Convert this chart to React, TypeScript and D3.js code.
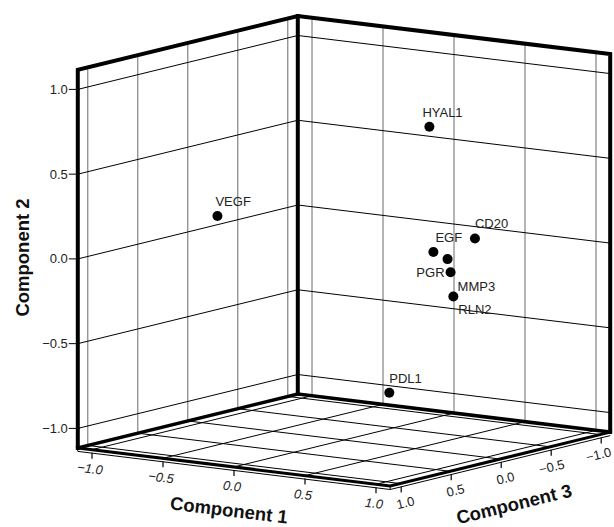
import React from 'react'
import * as d3 from 'd3'

// loadings
const variables = ['VEGF', 'HYAL1', 'CD20', 'EGF', 'PGR', 'MMP3', 'RLN2', 'PDL1']
const component1 = [-0.68, 0.39, 0.57, 0.70, 0.87, 0.68, 0.77, 0.46]
const component2 = [0.18, 0.73, 0.06, 0.08, 0.07, -0.07, -0.19, -0.76]
const component3 = [0.30, -0.30, -0.50, 0.10, 0.20, -0.10, 0.00, 0.20]

const ticks = [-1.0, -0.5, 0.0, 0.5, 1.0]
const tickLabels = ['\u22121.0', '\u22120.5', '0.0', '0.5', '1.0']

// where each point label sits next to its dot
const labelPlacement: [number, number, string][] = [
  [-2, -10, 'start'],
  [-7, -10, 'start'],
  [0, -10, 'start'],
  [2, -10, 'start'],
  [-3, 18, 'end'],
  [7, 19, 'start'],
  [5, 17, 'start'],
  [0, -10, 'start'],
]

const W = 614
const H = 527
const FONT = '"Liberation Sans", Arial, sans-serif'

// projection of the box: back-bottom corner and the three edge vectors
const B = [297.8, 394]
const E1 = [312.4, 38.1]
const E2 = [0, -378]
const E3 = [-220, 53.9]

const s1 = d3.scaleLinear().domain([-1.1, 1.1]).range([0, 1])
const s2 = d3.scaleLinear().domain([-1.115, 1.115]).range([0, 1])
const s3 = d3.scaleLinear().domain([-1.1, 1.1]).range([0, 1])

const [min1, max1] = s1.domain()
const [min2, max2] = s2.domain()
const [min3, max3] = s3.domain()

function project(a: number, b: number, c: number): [number, number] {
  const t1 = s1(a), t2 = s2(b), t3 = s3(c)
  return [
    B[0] + t1 * E1[0] + t2 * E2[0] + t3 * E3[0],
    B[1] + t1 * E1[1] + t2 * E2[1] + t3 * E3[1],
  ]
}

const line = d3.line()

function seg(p: [number, number][]) {
  return line(p) || ''
}

export default function App() {
  const wallVert: string[] = []
  const grid: string[] = []

  ticks.forEach(v => {
    // left wall (c1 = min)
    wallVert.push(seg([project(min1, min2, v), project(min1, max2, v)]))
    grid.push(seg([project(min1, v, min3), project(min1, v, max3)]))
    // right wall (c3 = min)
    wallVert.push(seg([project(v, min2, min3), project(v, max2, min3)]))
    grid.push(seg([project(min1, v, min3), project(max1, v, min3)]))
    // floor
    grid.push(seg([project(v, min2, min3), project(v, min2, max3)]))
    grid.push(seg([project(min1, min2, v), project(max1, min2, v)]))
  })

  const back = project(min1, min2, min3)
  const left = project(min1, min2, max3)
  const front = project(max1, min2, max3)
  const right = project(max1, min2, min3)
  const backTop = project(min1, max2, min3)
  const leftTop = project(min1, max2, max3)
  const rightTop = project(max1, max2, min3)

  const slab = 3.5
  const down = (p: [number, number]): [number, number] => [p[0], p[1] + slab]

  const angle1 = (Math.atan2(E1[1], E1[0]) * 180) / Math.PI
  const angle3 = (Math.atan2(-E3[1], -E3[0]) * 180) / Math.PI

  return (
    <svg width={W} height={H} style={{ position: 'absolute', left: 0, top: 0, background: '#fff' }}
      fontFamily={FONT}>
      <rect width={W} height={H} fill="#fff" />

      <g stroke="#6a6a6a" strokeWidth={1} fill="none">
        {wallVert.map((d, i) => <path key={i} d={d} />)}
      </g>
      <g stroke="#000" strokeWidth={1} fill="none">
        {grid.map((d, i) => <path key={i} d={d} />)}
      </g>

      {/* floor slab */}
      <g stroke="#000" fill="none">
        <path d={seg([down(left), down(front), down(right)])} strokeWidth={1} />
        <path d={seg([left, down(left)])} strokeWidth={1} />
        <path d={seg([front, down(front)])} strokeWidth={1} />
        <path d={seg([left, front, right])} strokeWidth={3} strokeLinejoin="miter" />
      </g>

      {/* box edges */}
      <g stroke="#000" fill="none" strokeLinejoin="miter" strokeLinecap="square">
        <path d={seg([left, back, right])} strokeWidth={3.5} />
        <path d={seg([left, leftTop, backTop, rightTop, right])} strokeWidth={4} />
        <path d={seg([back, backTop])} strokeWidth={4} />
      </g>

      {/* component 2 axis */}
      <g fontSize={13} fill="#222">
        {ticks.map((v, i) => {
          const [x, y] = project(min1, v, max3)
          return (
            <g key={i}>
              <line x1={x - 9} x2={x} y1={y} y2={y} stroke="#000" strokeWidth={1} />
              <text x={x - 10} y={y} dy="0.35em" textAnchor="end">{tickLabels[i]}</text>
            </g>
          )
        })}
      </g>

      {/* component 1 axis */}
      <g fontSize={13} fill="#222">
        {ticks.map((v, i) => {
          const [x, y] = project(v, min2, max3)
          return (
            <g key={i}>
              <line x1={x} x2={x} y1={y + 3} y2={y + 9} stroke="#000" strokeWidth={1.2} />
              <text transform={`translate(${x - 2},${y + 19}) rotate(${angle1})`} textAnchor="middle"
                dy="0.35em" fontStyle="italic">{tickLabels[i]}</text>
            </g>
          )
        })}
      </g>

      {/* component 3 axis */}
      <g fontSize={13} fill="#222">
        {ticks.map((v, i) => {
          const [x, y] = project(max1, min2, v)
          return (
            <g key={i}>
              <line x1={x + 1} x2={x + 1} y1={y + 3} y2={y + 9} stroke="#000" strokeWidth={1.2} />
              <text transform={`translate(${Math.min(x + 14, 611)},${y + 17}) rotate(${angle3})`} textAnchor="end"
                dy="0.35em">{tickLabels[i]}</text>
            </g>
          )
        })}
      </g>

      {/* axis titles */}
      <g fontSize={18.5} fontWeight="bold" fill="#111">
        <text transform={`translate(23,257.5) rotate(-90)`} textAnchor="middle" dy="0.35em">Component 2</text>
        <text transform={`translate(229,510) rotate(${angle1})`} textAnchor="middle" dy="0.35em">Component 1</text>
        <text transform={`translate(514,504) rotate(${angle3})`} textAnchor="middle" dy="0.35em">Component 3</text>
      </g>

      {/* points */}
      <g>
        {variables.map((name, i) => {
          const [x, y] = project(component1[i], component2[i], component3[i])
          const [dx, dy, anchor] = labelPlacement[i]
          return (
            <g key={name}>
              <circle cx={x} cy={y} r={5} fill="#000" />
              <text x={x + dx} y={y + dy} fontSize={13} fill="#222" textAnchor={anchor}>{name}</text>
            </g>
          )
        })}
      </g>
    </svg>
  )
}
